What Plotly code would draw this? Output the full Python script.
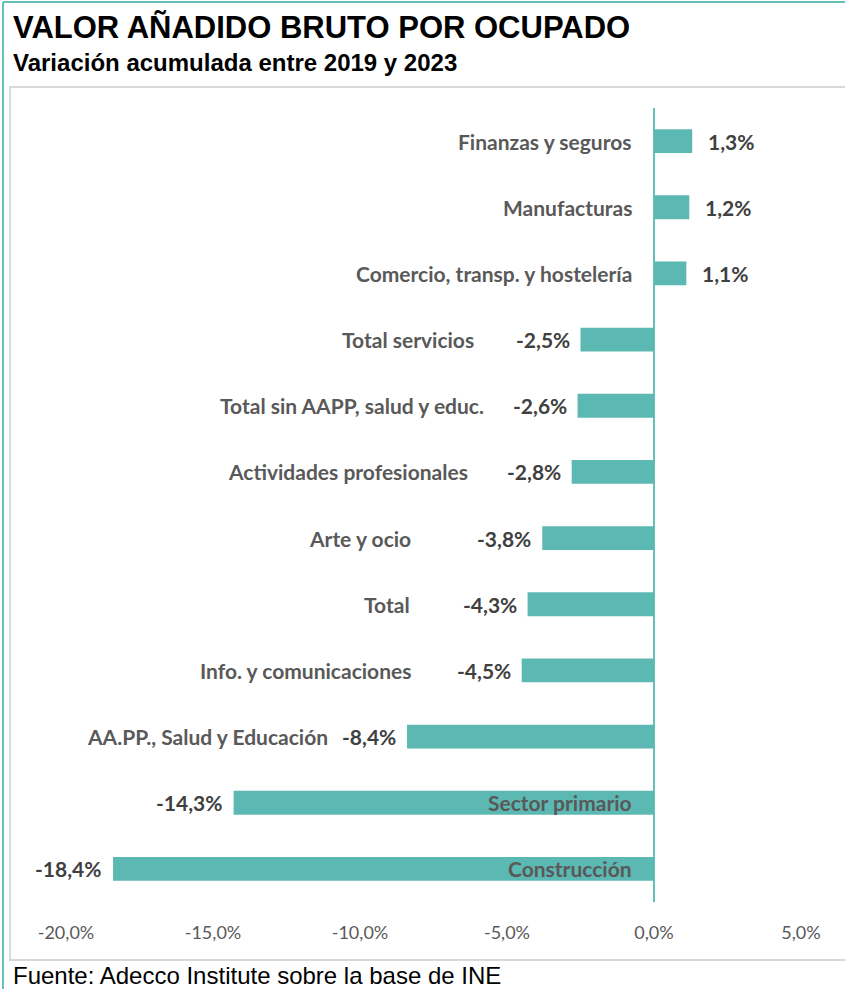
import plotly.graph_objects as go

# ---- data ----
categories = [
    "Finanzas y seguros",
    "Manufacturas",
    "Comercio, transp. y hostelería",
    "Total servicios",
    "Total sin AAPP, salud y educ.",
    "Actividades profesionales",
    "Arte y ocio",
    "Total",
    "Info. y comunicaciones",
    "AA.PP., Salud y Educación",
    "Sector primario",
    "Construcción",
]
values = [1.3, 1.2, 1.1, -2.5, -2.6, -2.8, -3.8, -4.3, -4.5, -8.4, -14.3, -18.4]
tick_values = [-20, -15, -10, -5, 0, 5]
tick_labels = ["-20,0%", "-15,0%", "-10,0%", "-5,0%", "0,0%", "5,0%"]

title = "VALOR AÑADIDO BRUTO POR OCUPADO"
subtitle = "Variación acumulada entre 2019 y 2023"
source = "Fuente: Adecco Institute sobre la base de INE"

# ---- layout constants ----
W, H = 845, 989
ML, MR, MT, MB = 8, 0, 108, 87
PW, PH = W - ML - MR, H - MT - MB
BAR = "#5cb8b2"
TEAL = "#63c1ba"
LABEL_C = "#595959"
VAL_C = "#404040"
HEAD_FONT = "Liberation Sans, Arial, sans-serif"
LBL_FONT = "Lato, Carlito, Calibri, sans-serif"
# category label right-edge offset in px from the bar start (for mid negatives)
label_gap_px = [None, None, None, 105, 92, 102, 129, 116, 109, 77, None, None]


def px2x(px):
    return (px - ML) / PW


def py2y(py):
    return (H - MB - py) / PH


fig = go.Figure(
    go.Bar(
        x=values,
        y=categories,
        orientation="h",
        marker=dict(color=BAR, line=dict(width=0)),
        hoverinfo="skip",
    )
)

annotations = []
for cat, v, gap in zip(categories, values, label_gap_px):
    vtxt = f"{v:.1f}%".replace(".", ",")
    annotations.append(dict(
        x=v, y=cat, xref="x", yref="y", text=f"<b>{vtxt}</b>", showarrow=False,
        xanchor="left" if v > 0 else "right", xshift=14 if v > 0 else -9,
        font=dict(family=LBL_FONT, size=21, color=VAL_C),
    ))
    if gap is None:
        annotations.append(dict(
            x=0, y=cat, xref="x", yref="y", text=f"<b>{cat}</b>", showarrow=False,
            xanchor="right", xshift=-20,
            font=dict(family=LBL_FONT, size=21, color=LABEL_C),
        ))
    else:
        annotations.append(dict(
            x=v, y=cat, xref="x", yref="y", text=f"<b>{cat}</b>", showarrow=False,
            xanchor="right", xshift=-gap,
            font=dict(family=LBL_FONT, size=21, color=LABEL_C),
        ))

annotations += [
    dict(x=px2x(11), y=py2y(28), xref="paper", yref="paper", text=f"<b>{title}</b>",
         showarrow=False, xanchor="left", yanchor="middle",
         font=dict(family=HEAD_FONT, size=31, color="#000000")),
    dict(x=px2x(11), y=py2y(63), xref="paper", yref="paper", text=f"<b>{subtitle}</b>",
         showarrow=False, xanchor="left", yanchor="middle",
         font=dict(family=HEAD_FONT, size=24, color="#000000")),
    dict(x=px2x(11), y=py2y(975), xref="paper", yref="paper", text=source,
         showarrow=False, xanchor="left", yanchor="middle",
         font=dict(family=HEAD_FONT, size=24, color="#000000")),
]

shapes = [
    dict(type="rect", xref="paper", yref="paper",
         x0=px2x(10), x1=px2x(860), y0=py2y(960), y1=py2y(87),
         line=dict(color="#d9d9d9", width=2), layer="below"),
    dict(type="line", xref="paper", yref="paper",
         x0=px2x(3), x1=px2x(3), y0=py2y(995), y1=py2y(2),
         line=dict(color=TEAL, width=2)),
    dict(type="line", xref="paper", yref="paper",
         x0=px2x(3), x1=px2x(850), y0=py2y(2), y1=py2y(2),
         line=dict(color=TEAL, width=2)),
]

x0 = -20 - (66 - ML) / (735 / 25)
x1 = x0 + PW / (735 / 25)

fig.update_layout(
    width=W, height=H,
    margin=dict(l=ML, r=MR, t=MT, b=MB),
    paper_bgcolor="white", plot_bgcolor="white",
    showlegend=False,
    bargap=0.64,
    annotations=annotations,
    shapes=shapes,
    xaxis=dict(
        range=[x0, x1], tickvals=tick_values, ticktext=tick_labels,
        showgrid=False, zeroline=True, zerolinecolor=TEAL, zerolinewidth=2,
        showline=False, ticks="", ticklabelstandoff=18,
        tickfont=dict(family=LBL_FONT, size=18, color=LABEL_C),
    ),
    yaxis=dict(
        type="category", categoryorder="array", categoryarray=categories,
        range=[11.5, -0.5], showticklabels=False, showgrid=False,
        zeroline=False, showline=False, ticks="",
    ),
)

fig.write_html(
    "out.html",
    config={"displayModeBar": False},
    post_script="document.body.style.margin='0';document.body.style.overflow='hidden';",
)
